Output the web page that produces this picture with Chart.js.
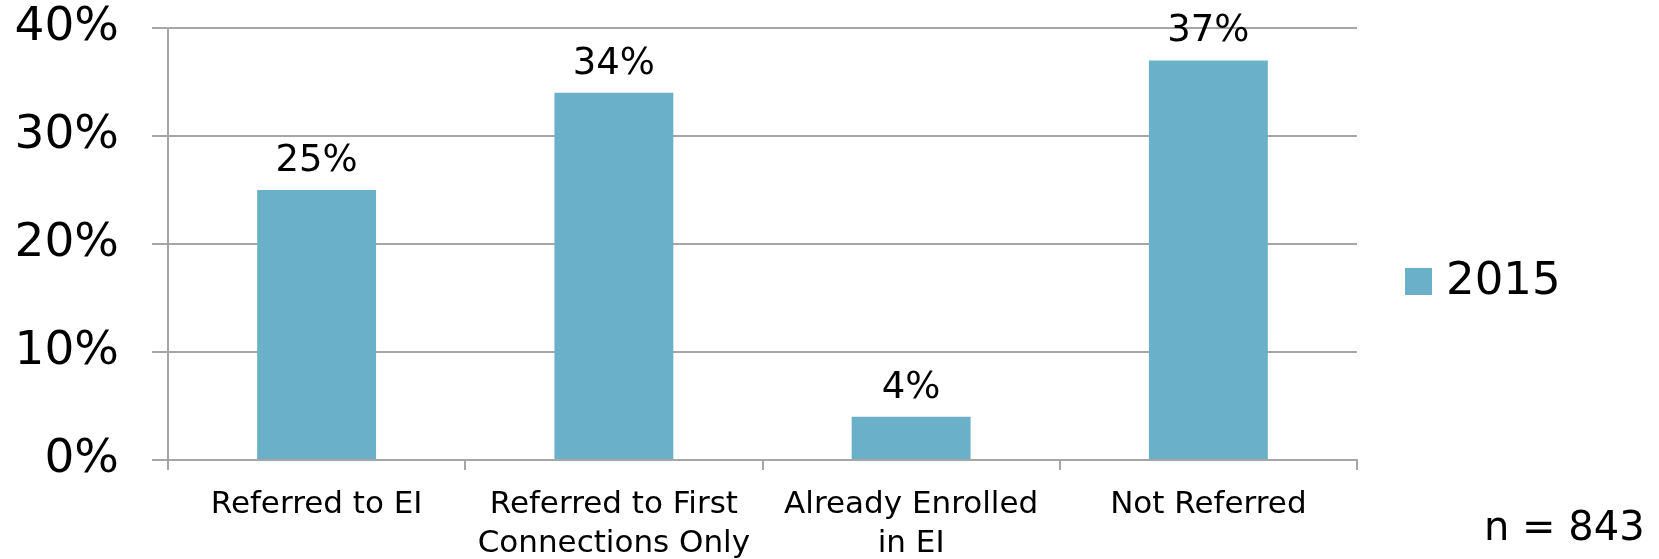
<!DOCTYPE html>
<html>
<head>
<meta charset="utf-8">
<script src="https://cdn.jsdelivr.net/npm/chart.js@4.4.0/dist/chart.umd.min.js"></script>
<style>
  body { margin: 0; background: #ffffff; }
  #grafico { display: block; }
</style>
</head>
<body>
<canvas id="grafico" width="1659" height="559"></canvas>
<script>
// datos del grafico
var categorias = [
    ['Referred to EI'],
    ['Referred to First', 'Connections Only'],
    ['Already Enrolled', 'in EI'],
    ['Not Referred']
];
var serie2015 = [25, 34, 4, 37];
var etiquetaSerie = '2015';
var ticksY = [0, 10, 20, 30, 40];
var notaMuestra = 'n = 843';

var colorBarra = '#6bb0c9';
var colorLinea = '#a6a6a6';
var fuente = "'DejaVu Sans', sans-serif";

// etiquetas encima de cada barra, leyenda y nota n
var pluginTextos = {
    id: 'textos',
    afterDatasetsDraw: function (chart) {
        var ctx = chart.ctx;
        var meta = chart.getDatasetMeta(0);
        ctx.save();
        ctx.fillStyle = '#000000';
        ctx.font = '37px ' + fuente;
        ctx.textAlign = 'center';
        ctx.textBaseline = 'alphabetic';
        meta.data.forEach(function (barra, i) {
            ctx.fillText(chart.data.datasets[0].data[i] + '%', barra.x, barra.y - 19);
        });

        // leyenda
        ctx.fillStyle = chart.data.datasets[0].backgroundColor;
        ctx.fillRect(1405, 268, 27, 27);
        ctx.fillStyle = '#000000';
        ctx.font = '45px ' + fuente;
        ctx.textAlign = 'left';
        ctx.textBaseline = 'middle';
        ctx.fillText(chart.data.datasets[0].label, 1446, 282);

        ctx.font = '40px ' + fuente;
        ctx.fillText(notaMuestra, 1484, 530);
        ctx.restore();
    }
};

var ctx = document.getElementById('grafico').getContext('2d');
var miGrafico = new Chart(ctx, {
    type: 'bar',
    data: {
        labels: categorias,
        datasets: [{
            label: etiquetaSerie,
            data: serie2015,
            backgroundColor: colorBarra,
            borderWidth: 0,
            barPercentage: 0.4,
            categoryPercentage: 1
        }]
    },
    options: {
        responsive: false,
        animation: false,
        devicePixelRatio: 1,
        layout: {
            padding: {left: 0, right: 302, top: 28, bottom: 0}
        },
        plugins: {
            legend: {display: false},
            tooltip: {enabled: false}
        },
        scales: {
            x: {
                grid: {
                    offset: true,
                    drawOnChartArea: false,
                    drawTicks: true,
                    tickLength: 10,
                    color: colorLinea,
                    lineWidth: 2
                },
                border: {display: true, color: colorLinea, width: 2},
                ticks: {
                    color: '#000000',
                    font: {family: fuente, size: 31, lineHeight: 1.27},
                    padding: 15,
                    maxRotation: 0,
                    autoSkip: false
                },
                afterFit: function (escala) {
                    escala.height = 99;
                    escala.paddingLeft = 0;
                    escala.paddingRight = 0;
                }
            },
            y: {
                min: 0,
                max: 40,
                afterBuildTicks: function (escala) {
                    escala.ticks = ticksY.map(function (v) { return {value: v}; });
                },
                grid: {
                    color: colorLinea,
                    lineWidth: 2,
                    tickLength: 16
                },
                border: {display: true, color: colorLinea, width: 2},
                ticks: {
                    color: '#000000',
                    font: {family: fuente, size: 47},
                    padding: 33,
                    callback: function (v) { return v + '%'; }
                },
                afterFit: function (escala) {
                    escala.width = 168;
                    escala.paddingTop = 0;
                    escala.paddingBottom = 0;
                }
            }
        }
    },
    plugins: [pluginTextos]
});
</script>
</body>
</html>
